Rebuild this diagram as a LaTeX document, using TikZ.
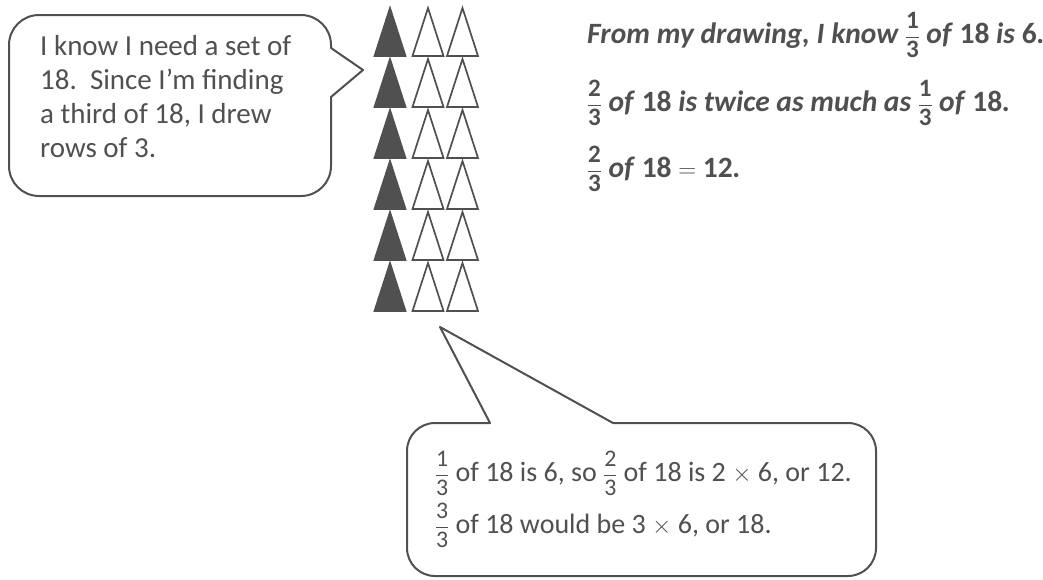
\documentclass[tikz,border=0pt]{standalone}
\usepackage{amsmath}
\usepackage{graphicx}
\usepackage{fontspec}
\setmainfont{Carlito}
\usetikzlibrary{positioning}

\definecolor{ink}{HTML}{505050}

\newcommand{\fr}[2]{\scalebox{.85}{$\dfrac{\text{\textup{#1}}}{\text{\textup{#2}}}$}}

\tikzset{
  bubble/.style={draw=ink, line width=2pt, line join=round},
  tri/.style={draw=ink, line width=1.7pt, line join=miter},
  note/.style={text=ink, inner sep=0pt, anchor=base west},
  fact/.style={note, font=\fontsize{29.5}{35}\selectfont\bfseries\itshape},
  sum/.style={note, font=\fontsize{28}{34}\selectfont},
}

\begin{document}
\begin{tikzpicture}[x=1pt, y=-1pt]
  \useasboundingbox (0,0) rectangle (1043,579);

  % speech bubble on the left
  \draw[bubble] (331,48) -- (363,70) -- (331,97)
    [rounded corners=30] -- (331,196) -- (9,196) -- (9,15) -- (331,15)
    [sharp corners] -- cycle;
  \node[note, align=left, font=\fontsize{29}{34}\selectfont] (think) at (40,157)
    {I know I need a set of\\18.\ \ Since I'm finding\\a third of 18, I drew\\rows of 3.};

  % six rows of three triangles
  \foreach \r [evaluate=\r as \y using 8+51*\r] in {0,...,5} {
    \filldraw[tri, fill=ink] (374.5,\y+48) -- (390,\y) -- (405.5,\y+48) -- cycle;
    \draw[tri] (412.5,\y+48) -- (428,\y) -- (443.5,\y+48) -- cycle;
    \draw[tri] (447,\y+48) -- (462.5,\y) -- (478,\y+48) -- cycle;
  }

  % what the drawing shows
  \node[fact] (fact1) at (587,43) {From my drawing, I know \fr{1}{3} of \textup{18} is \textup{6}.};
  \node[fact] (fact2) at (587,111) {\fr{2}{3} of \textup{18} is twice as much as \fr{1}{3} of \textup{18}.};
  \node[fact] (fact3) at (587,177) {\fr{2}{3} of \textup{18} $=$ \textup{12}.};

  % speech bubble at the bottom
  \draw[bubble] (490,423) -- (440,327) -- (613,423)
    [rounded corners=28] -- (876,423) -- (876,576) -- (407,576) -- (407,423)
    [sharp corners] -- cycle;
  \node[sum] (sum1) at (435,481) {\fr{1}{3} of 18 is 6, so \fr{2}{3} of 18 is 2 $\times$ 6, or 12.};
  \node[sum] (sum2) at (435,533) {\fr{3}{3} of 18 would be 3 $\times$ 6, or 18.};
\end{tikzpicture}
\end{document}
